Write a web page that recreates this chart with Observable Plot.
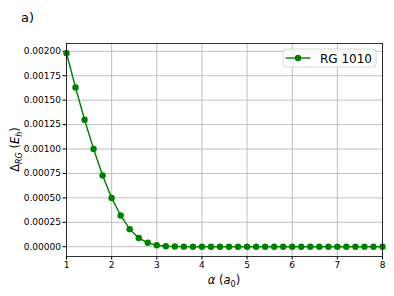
<!DOCTYPE html>
<html><head><meta charset="utf-8">
<script src="https://cdn.jsdelivr.net/npm/d3@7"></script>
<script src="https://cdn.jsdelivr.net/npm/@observablehq/plot@0.6"></script>
<style>
body{margin:0;background:#fff;}
#chart{position:relative;width:394px;height:296px;font-family:"DejaVu Sans",sans-serif;}
</style></head>
<body><div id="chart"></div>
<script>
const alphaValues = [1.0,1.2,1.4,1.6,1.8,2.0,2.2,2.4,2.6,2.8,3.0,3.2,3.4,3.6,3.8,4.0,4.2,4.4,4.6,4.8,5.0,5.2,5.4,5.6,5.8,6.0,6.2,6.4,6.6,6.8,7.0,7.2,7.4,7.6,7.8,8.0];
const deltaRG = [0.00198,0.00163,0.00130,0.00100,0.00073,0.00050,0.00032,0.00018,0.00009,0.00004,0.000015,0.000005,0.000002,0.000001,0,0,0,0,0,0,0,0,0,0,0,0,0,0,0,0,0,0,0,0,0,0];
const xTicks = [1,2,3,4,5,6,7,8];
const yTicks = [0,0.00025,0.0005,0.00075,0.001,0.00125,0.0015,0.00175,0.002];
const seriesName = "RG 1010";
const panelLabel = "a)";
const green = "#008000";

const data = alphaValues.map((a,i)=>({a, d: deltaRG[i]}));

const W=394,H=296,mL=66,mR=12,mT=43,mB=40;
const plot = Plot.plot({
  width: W, height: H,
  marginLeft: mL, marginRight: mR, marginTop: mT, marginBottom: mB,
  style: {fontFamily: "DejaVu Sans, sans-serif", fontSize: "9px", color: "#000", background: "#fff"},
  x: {domain: [1,8], label: null},
  y: {domain: [-0.0001, 0.00208], label: null},
  marks: [
    Plot.gridX(xTicks, {stroke: "#b0b0b0", strokeOpacity: 1, strokeWidth: 0.8}),
    Plot.gridY(yTicks, {stroke: "#b0b0b0", strokeOpacity: 1, strokeWidth: 0.8}),
    Plot.axisX(xTicks, {tickSize: 3.5, tickPadding: 2, tickFormat: d3.format("d"), label: null, fontSize: 9}),
    Plot.axisY(yTicks, {tickSize: 3.5, tickPadding: 2, tickFormat: d3.format(".5f"), label: null, fontSize: 9}),
    Plot.line(data, {x: "a", y: "d", stroke: green, strokeWidth: 1.4}),
    Plot.dot(data, {x: "a", y: "d", fill: green, r: 3.2}),
    Plot.frame({stroke: "#000", strokeWidth: 0.8})
  ]
});
document.getElementById("chart").appendChild(plot);

const svg = d3.select(plot);
// panel label
svg.append("text").attr("x", 21).attr("y", 22).attr("text-anchor","start").attr("font-size", 13).attr("font-family","DejaVu Sans").text(panelLabel);
// x label
const xl = svg.append("text").attr("x", mL + (W-mL-mR)/2).attr("y", 284).attr("text-anchor","middle").attr("font-size", 11.5).attr("font-family","DejaVu Sans");
xl.append("tspan").attr("font-style","italic").text("α");
xl.append("tspan").text(" (");
xl.append("tspan").attr("font-style","italic").text("a");
xl.append("tspan").attr("font-size", 8).attr("dy", 3).text("0");
xl.append("tspan").attr("dy", -3).text(")");
// y label
const yl = svg.append("text").attr("transform", `translate(19,${mT + (H-mT-mB)/2}) rotate(-90)`).attr("text-anchor","middle").attr("font-size", 11.5).attr("font-family","DejaVu Sans");
yl.append("tspan").text("Δ");
yl.append("tspan").attr("font-size", 8).attr("font-style","italic").attr("dy", 3).text("RG");
yl.append("tspan").attr("dy", -3).text(" (");
yl.append("tspan").attr("font-style","italic").text("E");
yl.append("tspan").attr("font-size", 8).attr("font-style","italic").attr("dy", 3).text("h");
yl.append("tspan").attr("dy", -3).text(")");
// legend
const lg = svg.append("g").attr("text-anchor","start");
lg.append("rect").attr("x", 283).attr("y", 49).attr("width", 93).attr("height", 18).attr("rx", 3).attr("fill","#fff").attr("fill-opacity",0.8).attr("stroke","#cccccc").attr("stroke-width",0.8);
lg.append("line").attr("x1", 285.5).attr("x2", 310.5).attr("y1", 58).attr("y2", 58).attr("stroke", green).attr("stroke-width", 1.4);
lg.append("circle").attr("cx", 298).attr("cy", 58).attr("r", 3.2).attr("fill", green);
lg.append("text").attr("x", 320).attr("y", 62.5).attr("font-size", 12).attr("font-family","DejaVu Sans").text(seriesName);
</script>
</body></html>
